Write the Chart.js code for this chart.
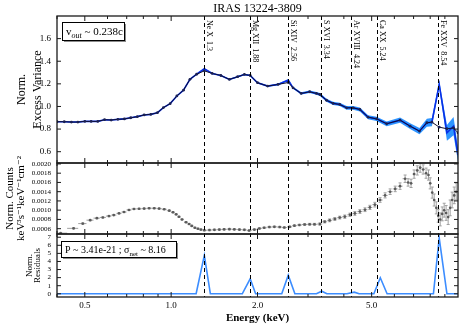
<!DOCTYPE html>
<html>
<head>
<meta charset="utf-8">
<script src="https://cdn.jsdelivr.net/npm/chart.js@4.4.1/dist/chart.umd.min.js"></script>
<style>
  html, body { margin: 0; padding: 0; background: #fff; }
</style>
</head>
<body>
<canvas id="chart" width="463" height="328"></canvas>
<script>
// values
const varEnergy = [
  0.40, 0.424, 0.449, 0.473, 0.50, 0.526, 0.555, 0.586, 0.618, 0.652,
  0.687, 0.723, 0.762, 0.805, 0.849, 0.896, 0.94, 0.992, 1.047, 1.104,
  1.163, 1.227, 1.305, 1.39, 1.49, 1.596, 1.706, 1.80, 1.886, 2.00,
  2.17, 2.36, 2.56, 2.66, 2.84, 3.04, 3.21, 3.30, 3.48, 3.67,
  3.87, 4.09, 4.31, 4.55, 4.86, 5.20, 5.64, 6.28, 6.81, 7.34,
  7.79, 8.11, 8.60, 9.15, 9.65, 10.0
];
// black line with dots
const excessVar = [
  0.865, 0.865, 0.862, 0.862, 0.868, 0.868, 0.868, 0.883, 0.88, 0.886,
  0.89, 0.90, 0.91, 0.925, 0.93, 0.945, 0.99, 1.025, 1.093, 1.144,
  1.24, 1.285, 1.315, 1.292, 1.274, 1.239, 1.263, 1.283, 1.274, 1.21,
  1.18, 1.195, 1.212, 1.165, 1.115, 1.13, 1.115, 1.106, 1.055, 1.027,
  1.018, 0.988, 0.988, 0.973, 0.905, 0.891, 0.847, 0.879, 0.826, 0.782,
  0.856, 0.861, 0.817, 0.803, 0.81, 0.767
];
// blue model and half width of its band
const modelVar = [
  0.865, 0.865, 0.862, 0.862, 0.868, 0.868, 0.868, 0.883, 0.88, 0.886,
  0.89, 0.90, 0.91, 0.925, 0.93, 0.945, 0.99, 1.025, 1.093, 1.144,
  1.24, 1.285, 1.333, 1.292, 1.274, 1.239, 1.263, 1.283, 1.274, 1.21,
  1.18, 1.195, 1.233, 1.165, 1.115, 1.13, 1.115, 1.106, 1.055, 1.027,
  1.018, 0.988, 0.988, 0.973, 0.905, 0.891, 0.847, 0.879, 0.826, 0.782,
  0.856, 0.861, 1.195, 0.767, 0.826, 0.57
];
const modelErr = [
  0.003, 0.003, 0.003, 0.003, 0.003, 0.003, 0.003, 0.003, 0.003, 0.003,
  0.003, 0.003, 0.003, 0.003, 0.003, 0.003, 0.003, 0.003, 0.004, 0.004,
  0.004, 0.005, 0.006, 0.005, 0.005, 0.005, 0.006, 0.006, 0.006, 0.006,
  0.006, 0.007, 0.008, 0.009, 0.01, 0.011, 0.012, 0.013, 0.014, 0.015,
  0.015, 0.016, 0.016, 0.017, 0.018, 0.019, 0.021, 0.023, 0.025, 0.028,
  0.035, 0.037, 0.03, 0.07, 0.08, 0.06
];

const cntEnergy = [
  0.412, 0.457, 0.492, 0.522, 0.551, 0.578, 0.607, 0.631, 0.658, 0.685,
  0.713, 0.742, 0.773, 0.805, 0.838, 0.873, 0.908, 0.946, 0.985, 1.015,
  1.041, 1.065, 1.091, 1.127, 1.155, 1.18, 1.21, 1.24, 1.27, 1.305,
  1.36, 1.415, 1.472, 1.53, 1.596, 1.66, 1.73, 1.80, 1.87, 1.95,
  2.03, 2.11, 2.20, 2.29, 2.39, 2.48, 2.59, 2.69, 2.80, 2.92,
  3.04, 3.16, 3.30, 3.43, 3.57, 3.72, 3.87, 4.03, 4.20, 4.37,
  4.55, 4.74, 4.93, 5.13, 5.35, 5.57, 5.80, 6.04, 6.28, 6.54,
  6.70, 6.86, 7.03, 7.21, 7.38, 7.56, 7.74, 7.89, 8.00, 8.13,
  8.26, 8.40, 8.53, 8.67, 8.81, 8.95, 9.09, 9.24, 9.39, 9.54,
  9.70, 9.86
];
const cntCounts = [
  0.000503, 0.000607, 0.00071, 0.000784, 0.000828, 0.000843, 0.000872, 0.000894, 0.000931, 0.00096,
  0.001005, 0.001027, 0.00103, 0.001034, 0.001042, 0.001042, 0.001034, 0.00102, 0.00099, 0.000954,
  0.00091, 0.000857, 0.0008, 0.00074, 0.0007, 0.00066, 0.00062, 0.0006, 0.00058, 0.000565,
  0.00057, 0.000575, 0.00058, 0.000585, 0.00059, 0.000585, 0.00058, 0.000575, 0.00056, 0.00058,
  0.000605, 0.00062, 0.000635, 0.00064, 0.000635, 0.000625, 0.00064, 0.000665, 0.00068, 0.00069,
  0.000695, 0.000695, 0.0007, 0.00075, 0.00078, 0.00081, 0.00084, 0.00086, 0.0009, 0.00093,
  0.00097, 0.00101, 0.00106, 0.00112, 0.00122, 0.00132, 0.0014, 0.00146, 0.00152, 0.00168,
  0.0016, 0.00158, 0.00178, 0.00186, 0.00192, 0.00188, 0.0018, 0.00176, 0.00158, 0.00138,
  0.00122, 0.00105, 0.00088, 0.0008, 0.00092, 0.001, 0.00094, 0.00085, 0.00105, 0.00122,
  0.00132, 0.0014
];
const cntErr = [
  0.000012, 0.000012, 0.000012, 0.000012, 0.000012, 0.000012, 0.000012, 0.000012, 0.000012, 0.000012,
  0.000012, 0.000012, 0.000012, 0.000012, 0.000012, 0.000012, 0.000012, 0.000012, 0.000012, 0.000012,
  0.000012, 0.000012, 0.000012, 0.000012, 0.000012, 0.000012, 0.000012, 0.000012, 0.000012, 0.000012,
  0.000015, 0.000015, 0.000015, 0.000015, 0.000015, 0.000015, 0.000015, 0.000015, 0.000015, 0.000015,
  0.000015, 0.000015, 0.000015, 0.000015, 0.000015, 0.000015, 0.000015, 0.000015, 0.000015, 0.00002,
  0.00002, 0.00002, 0.000025, 0.000025, 0.00003, 0.00003, 0.00003, 0.000035, 0.000035, 0.00004,
  0.00004, 0.00004, 0.000045, 0.00005, 0.00005, 0.000055, 0.00006, 0.00006, 0.00007, 0.00008,
  0.00008, 0.00009, 0.00009, 0.0001, 0.0001, 0.0001, 0.00011, 0.00011, 0.00012, 0.00012,
  0.00013, 0.00013, 0.00014, 0.00014, 0.00015, 0.00015, 0.00016, 0.00016, 0.00017, 0.00017,
  0.00018, 0.00018
];

const resEnergy = [0.40, 1.222, 1.305, 1.37, 1.77, 1.886, 1.97, 2.43, 2.56, 2.70, 3.21, 3.35,
  3.49, 4.10, 4.35, 4.52, 5.09, 5.36, 5.66, 8.21, 8.60, 9.15, 10.0];
const resValue = [0, 0, 4.75, 0, 0, 1.85, 0, 0, 2.3, 0, 0, 0.32,
  0, 0, 0.2, 0, 0, 1.98, 0, 0, 6.9, 0, 0];

const lineNames = ["Ne X", "Mg XII", "Si XIV", "S XVI", "Ar XVIII", "Ca XX", "Fe XXV"];
const lineEnergy = [1.3, 1.88, 2.56, 3.34, 4.24, 5.24, 8.54];

const xTicks = [0.5, 1, 2, 5];
const xMinorTicks = [0.4, 0.6, 0.7, 0.8, 0.9, 3, 4, 6, 7, 8, 9];
const varTicks = [0.6, 0.8, 1.0, 1.2, 1.4, 1.6];
const cntTicks = [0.0006, 0.0008, 0.0010, 0.0012, 0.0014, 0.0016, 0.0018, 0.0020];
const resTicks = [0, 1, 2, 3, 4, 5, 6, 7];

const SERIF = "'Liberation Serif', 'DejaVu Serif', serif";
Chart.defaults.font.family = SERIF;
Chart.defaults.color = "#000";

const toXY = (xs, ys) => xs.map((x, i) => ({ x: x, y: ys[i] }));
const bandUpper = modelVar.map((v, i) => v + modelErr[i]);
const bandLower = modelVar.map((v, i) => v - modelErr[i]);

// text with a sub-script part, drawn piece by piece
function drawRich(ctx, parts, x, y) {
  parts.forEach((p) => {
    ctx.font = (p.style || "") + " " + p.size + "px " + SERIF;
    ctx.fillText(p.t, x, y + (p.dy || 0));
    x += ctx.measureText(p.t).width;
  });
}

function drawBox(ctx, x, y, w, h) {
  ctx.fillStyle = "#8c8c8c";
  ctx.fillRect(x + 2, y + 2, w, h);
  ctx.fillStyle = "#fff";
  ctx.fillRect(x, y, w, h);
  ctx.strokeStyle = "#000";
  ctx.lineWidth = 1;
  ctx.strokeRect(x + 0.5, y + 0.5, w, h);
}

const panelDecor = {
  id: "panelDecor",
  beforeDatasetsDraw(chart) {
    // error bars of the counts spectrum
    const { ctx } = chart;
    const x = chart.scales.x;
    const y = chart.scales.yCnt;
    ctx.save();
    ctx.beginPath();
    ctx.rect(x.left, y.top, x.right - x.left, y.bottom - y.top);
    ctx.clip();
    ctx.strokeStyle = "#a0a0a0";
    ctx.lineWidth = 1;
    const n = cntEnergy.length;
    cntEnergy.forEach((e, i) => {
      let hi = i < n - 1 ? Math.sqrt(e * cntEnergy[i + 1]) : null;
      let lo = i > 0 ? Math.sqrt(cntEnergy[i - 1] * e) : null;
      if (lo === null) lo = (e * e) / hi;
      if (hi === null) hi = (e * e) / lo;
      const px = x.getPixelForValue(e);
      const py = y.getPixelForValue(cntCounts[i]);
      const y0 = y.getPixelForValue(cntCounts[i] - cntErr[i]);
      const y1 = y.getPixelForValue(cntCounts[i] + cntErr[i]);
      ctx.beginPath();
      ctx.moveTo(x.getPixelForValue(lo), py);
      ctx.lineTo(x.getPixelForValue(hi), py);
      ctx.moveTo(px, y0);
      ctx.lineTo(px, y1);
      ctx.moveTo(px - 1.5, y0);
      ctx.lineTo(px + 1.5, y0);
      ctx.moveTo(px - 1.5, y1);
      ctx.lineTo(px + 1.5, y1);
      ctx.stroke();
    });
    ctx.restore();
  },
  afterDatasetsDraw(chart) {
    const { ctx, chartArea: ca } = chart;
    const x = chart.scales.x;
    const panels = [
      [chart.scales.yVar, varTicks],
      [chart.scales.yCnt, cntTicks],
      [chart.scales.yRes, resTicks],
    ];
    ctx.save();

    // ion lines
    ctx.strokeStyle = "#000";
    ctx.lineWidth = 1;
    ctx.setLineDash([4, 3]);
    lineEnergy.forEach((e) => {
      const px = Math.round(x.getPixelForValue(e)) + 0.5;
      ctx.beginPath();
      ctx.moveTo(px, ca.top);
      ctx.lineTo(px, ca.bottom);
      ctx.stroke();
    });
    ctx.setLineDash([]);

    ctx.fillStyle = "#000";
    ctx.font = "8px " + SERIF;
    ctx.textAlign = "left";
    ctx.textBaseline = "alphabetic";
    lineEnergy.forEach((e, i) => {
      const px = Math.round(x.getPixelForValue(e)) + 0.5;
      ctx.save();
      ctx.translate(px + 2, ca.top + 4);
      ctx.rotate(Math.PI / 2);
      ctx.fillText(lineNames[i] + "  " + e, 0, 0);
      ctx.restore();
    });

    // frames and inward ticks
    panels.forEach(([s, ticks]) => {
      ctx.strokeStyle = "#1a1a1a";
      ctx.lineWidth = 1.3;
      ctx.strokeRect(ca.left, s.top, ca.right - ca.left, s.bottom - s.top);
      ctx.lineWidth = 1;
      ctx.beginPath();
      ticks.forEach((v) => {
        const py = s.getPixelForValue(v);
        ctx.moveTo(ca.left, py);
        ctx.lineTo(ca.left + 4, py);
        ctx.moveTo(ca.right, py);
        ctx.lineTo(ca.right - 4, py);
      });
      xTicks.concat(xMinorTicks).forEach((v) => {
        const px = x.getPixelForValue(v);
        const len = xTicks.includes(v) ? 5 : 3;
        ctx.moveTo(px, s.top);
        ctx.lineTo(px, s.top + len);
        ctx.moveTo(px, s.bottom);
        ctx.lineTo(px, s.bottom - len);
      });
      ctx.stroke();
    });

    // title
    ctx.fillStyle = "#000";
    ctx.font = "12px " + SERIF;
    ctx.textAlign = "center";
    ctx.textBaseline = "middle";
    ctx.fillText("IRAS 13224-3809", (ca.left + ca.right) / 2, 9);

    // text boxes
    ctx.textAlign = "left";
    ctx.textBaseline = "alphabetic";
    const top = chart.scales.yVar.top;
    drawBox(ctx, ca.left + 5, top + 6, 62, 18);
    ctx.fillStyle = "#000";
    drawRich(ctx, [
      { t: "v", size: 11 },
      { t: "out", size: 8, style: "italic", dy: 3 },
      { t: " ~ 0.238c", size: 11 },
    ], ca.left + 9, top + 19);

    const rTop = chart.scales.yRes.top;
    drawBox(ctx, ca.left + 4, rTop + 7, 115, 16);
    ctx.fillStyle = "#000";
    drawRich(ctx, [
      { t: "P ~ 3.41e-21 ; \u03c3", size: 10 },
      { t: "net", size: 7, dy: 2.5 },
      { t: " ~ 8.16", size: 10 },
    ], ca.left + 8, rTop + 19);

    ctx.restore();
  },
};

const yCommon = (ticks, fmt, size) => ({
  type: "linear",
  position: "left",
  stack: "panels",
  grid: { display: false, drawTicks: false },
  border: { display: false },
  afterFit: (s) => { s.width = 57; },
  afterBuildTicks: (s) => { s.ticks = ticks.map((v) => ({ value: v })); },
  ticks: { autoSkip: false, padding: 6, font: { size: size }, callback: fmt },
});

const ctx = document.getElementById("chart").getContext("2d");
new Chart(ctx, {
  type: "line",
  data: {
    datasets: [
      {
        data: toXY(varEnergy, excessVar),
        yAxisID: "yVar",
        borderColor: "#0d0d2e",
        borderWidth: 1,
        pointRadius: 1.4,
        pointBorderWidth: 0,
        pointBackgroundColor: "#1b2152",
      },
      {
        data: toXY(varEnergy, modelVar),
        yAxisID: "yVar",
        borderColor: "#0a2fe6",
        borderWidth: 1.6,
        pointRadius: 0,
      },
      {
        data: toXY(varEnergy, bandUpper),
        yAxisID: "yVar",
        borderColor: "rgba(0,0,0,0)",
        pointRadius: 0,
        fill: false,
      },
      {
        data: toXY(varEnergy, bandLower),
        yAxisID: "yVar",
        borderColor: "rgba(0,0,0,0)",
        pointRadius: 0,
        fill: "-1",
        backgroundColor: "rgba(22,138,255,0.9)",
      },
      {
        data: toXY(cntEnergy, cntCounts),
        yAxisID: "yCnt",
        showLine: false,
        pointRadius: 1.3,
        pointBorderWidth: 0,
        pointBackgroundColor: "#5a5a5a",
      },
      {
        data: toXY(resEnergy, resValue),
        yAxisID: "yRes",
        borderColor: "#3c8dff",
        borderWidth: 1.6,
        pointRadius: 0,
      },
    ],
  },
  options: {
    responsive: false,
    animation: false,
    devicePixelRatio: 1,
    layout: { padding: { top: 16, right: 5, left: 0, bottom: 0 } },
    plugins: {
      legend: { display: false },
      tooltip: { enabled: false },
    },
    scales: {
      x: {
        type: "logarithmic",
        position: "bottom",
        min: 0.4,
        max: 10,
        grid: { display: false, drawTicks: false },
        border: { display: false },
        afterFit: (s) => { s.height = 31; },
        afterBuildTicks: (s) => { s.ticks = xTicks.map((v) => ({ value: v })); },
        ticks: {
          autoSkip: false,
          maxRotation: 0,
          padding: 3,
          font: { size: 9 },
          callback: (v) => Number(v).toFixed(1),
        },
        title: {
          display: true,
          text: "Energy (keV)",
          font: { size: 11, weight: "bold" },
          padding: { top: 0, bottom: 3 },
        },
      },
      yRes: Object.assign(yCommon(resTicks, (v) => String(v), 7), {
        min: -0.4, max: 7.4, stackWeight: 63, weight: 1,
        title: { display: true, text: ["Norm.", "Residuals"], font: { size: 9, lineHeight: 0.85 }, padding: { top: 26, bottom: 0 } },
      }),
      yCnt: Object.assign(yCommon(cntTicks, (v) => Number(v).toFixed(4), 7), {
        min: 0.000485, max: 0.00202, stackWeight: 71, weight: 2,
        title: { display: true, text: ["Norm. Counts", "keV\u00b3s\u207b\u00b9keV\u207b\u00b9cm\u207b\u00b2"], font: { size: 11, lineHeight: 1.0 }, padding: { top: 4.5, bottom: 0 } },
      }),
      yVar: Object.assign(yCommon(varTicks, (v) => Number(v).toFixed(1), 9), {
        min: 0.5, max: 1.8, stackWeight: 147, weight: 3,
        title: { display: true, text: ["Norm.", "Excess Variance"], font: { size: 12, lineHeight: 1.3 }, padding: { top: 14, bottom: 0 } },
      }),
    },
  },
  plugins: [panelDecor],
});
</script>
</body>
</html>
